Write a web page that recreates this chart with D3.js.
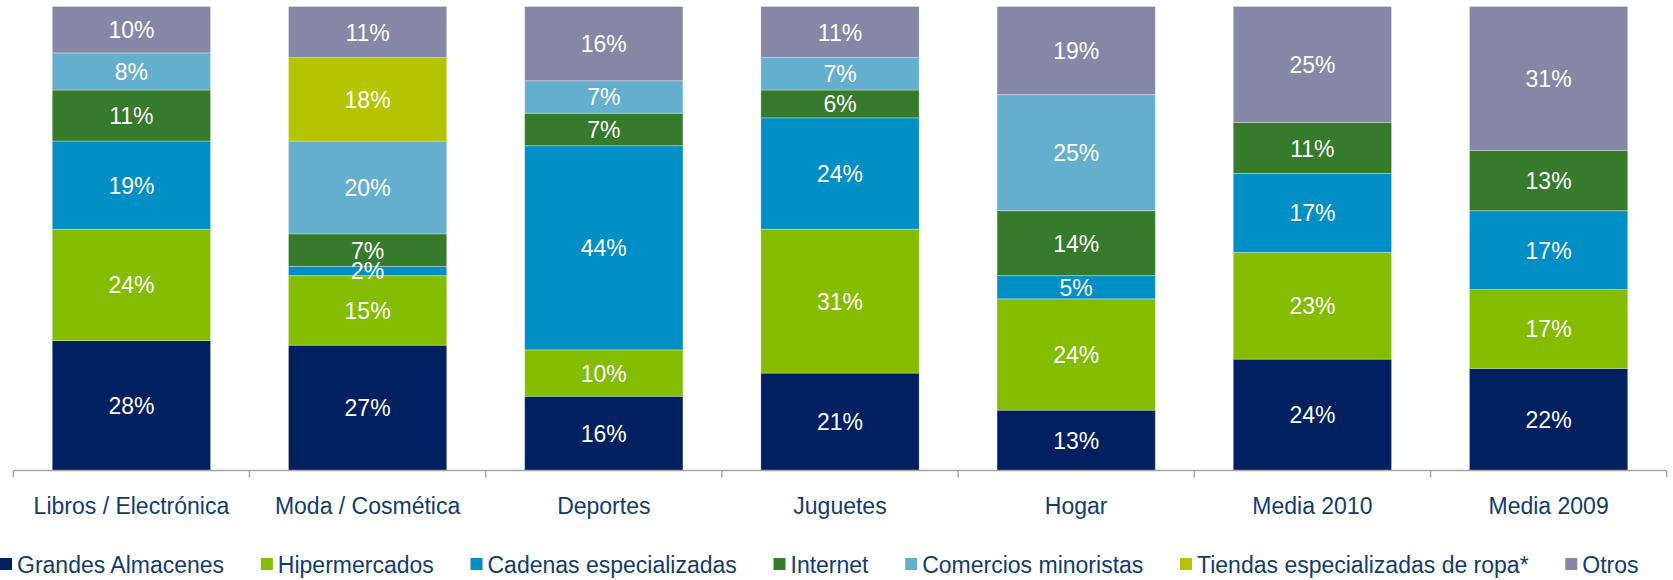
<!DOCTYPE html>
<html>
<head>
<meta charset="utf-8">
<script src="https://cdn.jsdelivr.net/npm/d3@7"></script>
<style>
  body { margin: 0; background: #fff; }
  text { font-family: "Liberation Sans", Arial, sans-serif; }
</style>
</head>
<body>
<div id="chart"></div>
<script>
// categories and series (values in %)
var categories = ["Libros / Electrónica", "Moda / Cosmética", "Deportes", "Juguetes", "Hogar", "Media 2010", "Media 2009"];
var seriesNames = ["Grandes Almacenes", "Hipermercados", "Cadenas especializadas", "Internet", "Comercios minoristas", "Tiendas especializadas de ropa*", "Otros"];

var grandesAlmacenes    = [28, 27, 16, 21, 13, 24, 22];
var hipermercados       = [24, 15, 10, 31, 24, 23, 17];
var cadenas             = [19,  2, 44, 24,  5, 17, 17];
var internet            = [11,  7,  7,  6, 14, 11, 13];
var comercios           = [ 8, 20,  7,  7, 25,  0,  0];
var tiendasRopa         = [ 0, 18,  0,  0,  0,  0,  0];
var otros               = [10, 11, 16, 11, 19, 25, 31];

var seriesValues = [grandesAlmacenes, hipermercados, cadenas, internet, comercios, tiendasRopa, otros];
var seriesColors = ["#002060", "#84bc00", "#008fc5", "#367a2b", "#64afce", "#b5c400", "#8488a6"];

var svgWidth = 1673;
var svgHeight = 580;
var textColor = "#123d6b";

var svg = d3.select("#chart")
    .append("svg")
    .attr("width", svgWidth)
    .attr("height", svgHeight);

// build table for d3.stack
var table = categories.map(function(c, i){
  var row = {cat: c};
  seriesNames.forEach(function(s, k){ row[s] = seriesValues[k][i]; });
  return row;
});

var stack = d3.stack().keys(seriesNames);
var layers = stack(table);

var x = d3.scaleBand()
    .domain(categories)
    .range([13.3, 1666.7])
    .paddingInner(0.33)
    .paddingOuter(0.165);

var y = d3.scaleLinear()
    .domain([0, 100])
    .range([470.5, 6.5]);

var color = d3.scaleOrdinal().domain(seriesNames).range(seriesColors);

function nonZero(d){ return d.filter(function(p){ return p[1] - p[0] > 0; }); }

// bars
var groups = svg.selectAll("g.layer")
    .data(layers)
    .enter()
    .append("g")
    .attr("class", "layer")
    .attr("fill", function(d){ return color(d.key); });

groups.selectAll("rect")
    .data(nonZero)
    .enter()
    .append("rect")
    .attr("x", function(d){ return x(d.data.cat); })
    .attr("width", x.bandwidth())
    .attr("y", function(d){ return y(d[1]); })
    .attr("height", function(d){ return y(d[0]) - y(d[1]); })
    .attr("stroke", "#ffffff")
    .attr("stroke-opacity", 0.3)
    .attr("stroke-width", 1);

// value labels, drawn above every bar
var labelGroups = svg.selectAll("g.labels")
    .data(layers)
    .enter()
    .append("g")
    .attr("class", "labels");

labelGroups.selectAll("text")
    .data(nonZero)
    .enter()
    .append("text")
    .attr("x", function(d){ return x(d.data.cat) + x.bandwidth() / 2; })
    .attr("y", function(d){ return (y(d[0]) + y(d[1])) / 2 + 8.5; })
    .attr("text-anchor", "middle")
    .attr("fill", "#ffffff")
    .style("font-size", "23px")
    .text(function(d){ return (d[1] - d[0]) + "%"; });

// x axis: line with ticks at category boundaries
var step = x.step();
var x0 = x.range()[0];
var axisG = svg.append("g");

axisG.append("line")
    .attr("x1", x0).attr("x2", x.range()[1])
    .attr("y1", y(0)).attr("y2", y(0))
    .attr("stroke", "#a6a6a6")
    .attr("stroke-width", 1.5);

axisG.selectAll("line.tick")
    .data(d3.range(categories.length + 1))
    .enter()
    .append("line")
    .attr("class", "tick")
    .attr("x1", function(d){ return x0 + d * step; })
    .attr("x2", function(d){ return x0 + d * step; })
    .attr("y1", y(0))
    .attr("y2", y(0) + 7)
    .attr("stroke", "#a6a6a6")
    .attr("stroke-width", 1.5);

axisG.selectAll("text")
    .data(categories)
    .enter()
    .append("text")
    .attr("x", function(d){ return x(d) + x.bandwidth() / 2; })
    .attr("y", 514)
    .attr("text-anchor", "middle")
    .attr("fill", textColor)
    .style("font-size", "23px")
    .text(function(d){ return d; });

// legend
var legend = svg.append("g");
var lx = 0;
seriesNames.forEach(function(s){
  var item = legend.append("g").attr("transform", "translate(" + lx + ",0)");
  item.append("rect")
      .attr("x", 0).attr("y", 558)
      .attr("width", 12).attr("height", 12)
      .attr("fill", color(s));
  var t = item.append("text")
      .attr("x", 17).attr("y", 573)
      .attr("fill", textColor)
      .style("font-size", "23px")
      .text(s);
  lx += 17 + t.node().getComputedTextLength() + 36.7;
});
</script>
</body>
</html>
